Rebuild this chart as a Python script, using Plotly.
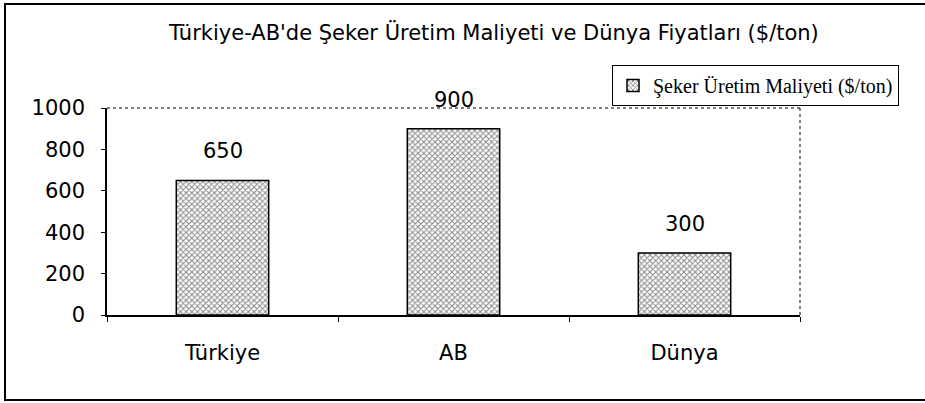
import plotly.graph_objects as go

categories = ["Türkiye", "AB", "Dünya"]
values = [650, 900, 300]
series_name = "Şeker Üretim Maliyeti ($/ton)"
title_text = "Türkiye-AB'de Şeker Üretim Maliyeti ve Dünya Fiyatları ($/ton)"
y_ticks = [0, 200, 400, 600, 800, 1000]

W, H = 925, 403
L, R, T, B = 107, 125, 108, 88
pw, ph = W - L - R, H - T - B

def px_x(p):
    return (p - L) / pw

def px_y(p):
    return (H - B - p) / ph

SANS = "DejaVu Sans"

fig = go.Figure()
fig.add_trace(go.Bar(
    x=categories, y=values, name=series_name,
    marker=dict(color="white",
                line=dict(color="black", width=1.5),
                pattern=dict(shape="x", fgcolor="#111111", bgcolor="white",
                             size=4, solidity=0.45)),
    showlegend=True,
))

for c, v in zip(categories, values):
    fig.add_annotation(x=c, y=v, text=str(v), showarrow=False,
                       yshift=29, font=dict(family=SANS, size=21, color="black"))

shapes = [
    dict(type="line", xref="paper", yref="paper", x0=0, x1=1, y0=1, y1=1,
         line=dict(color="black", width=1, dash="dot")),
    dict(type="line", xref="paper", yref="paper", x0=1, x1=1, y0=0, y1=1,
         line=dict(color="black", width=1, dash="dot")),
    dict(type="rect", xref="paper", yref="paper",
         x0=px_x(5), x1=px_x(940), y0=px_y(400), y1=px_y(4),
         line=dict(color="black", width=2)),
]
fig.update_layout(shapes=shapes)

fig.update_layout(
    width=W, height=H,
    margin=dict(l=L, r=R, t=T, b=B, autoexpand=False),
    paper_bgcolor="white", plot_bgcolor="white",
    bargap=0.6,
    font=dict(family=SANS, color="black"),
    title=dict(text=title_text, x=px_x(477), xanchor="center",
               y=1 - 33 / H, yanchor="middle",
               font=dict(family=SANS, size=21, color="black")),
    legend=dict(x=px_x(612), xanchor="left", y=px_y(65), yanchor="top",
                bordercolor="black", borderwidth=1, bgcolor="white",
                font=dict(family="Liberation Serif", size=20, color="black"),
                itemwidth=30, tracegroupgap=0),
    xaxis=dict(showline=True, linecolor="black", linewidth=1.5,
               ticks="outside", ticklen=5, tickcolor="black", tickson="boundaries",
               tickfont=dict(family=SANS, size=21, color="black"),
               showgrid=False, zeroline=False, automargin=False,
               ticklabelstandoff=18),
    yaxis=dict(range=[0, 1000], tickvals=y_ticks, showline=True, linecolor="black",
               linewidth=1.5, ticks="outside", ticklen=4, tickcolor="black",
               tickfont=dict(family=SANS, size=21, color="black"),
               showgrid=False, zeroline=False, automargin=False,
               ticklabelstandoff=12),
)

fig.write_html("out.html", config={"displayModeBar": False},
               post_script="document.body.style.margin='0';document.body.style.overflow='hidden';")
